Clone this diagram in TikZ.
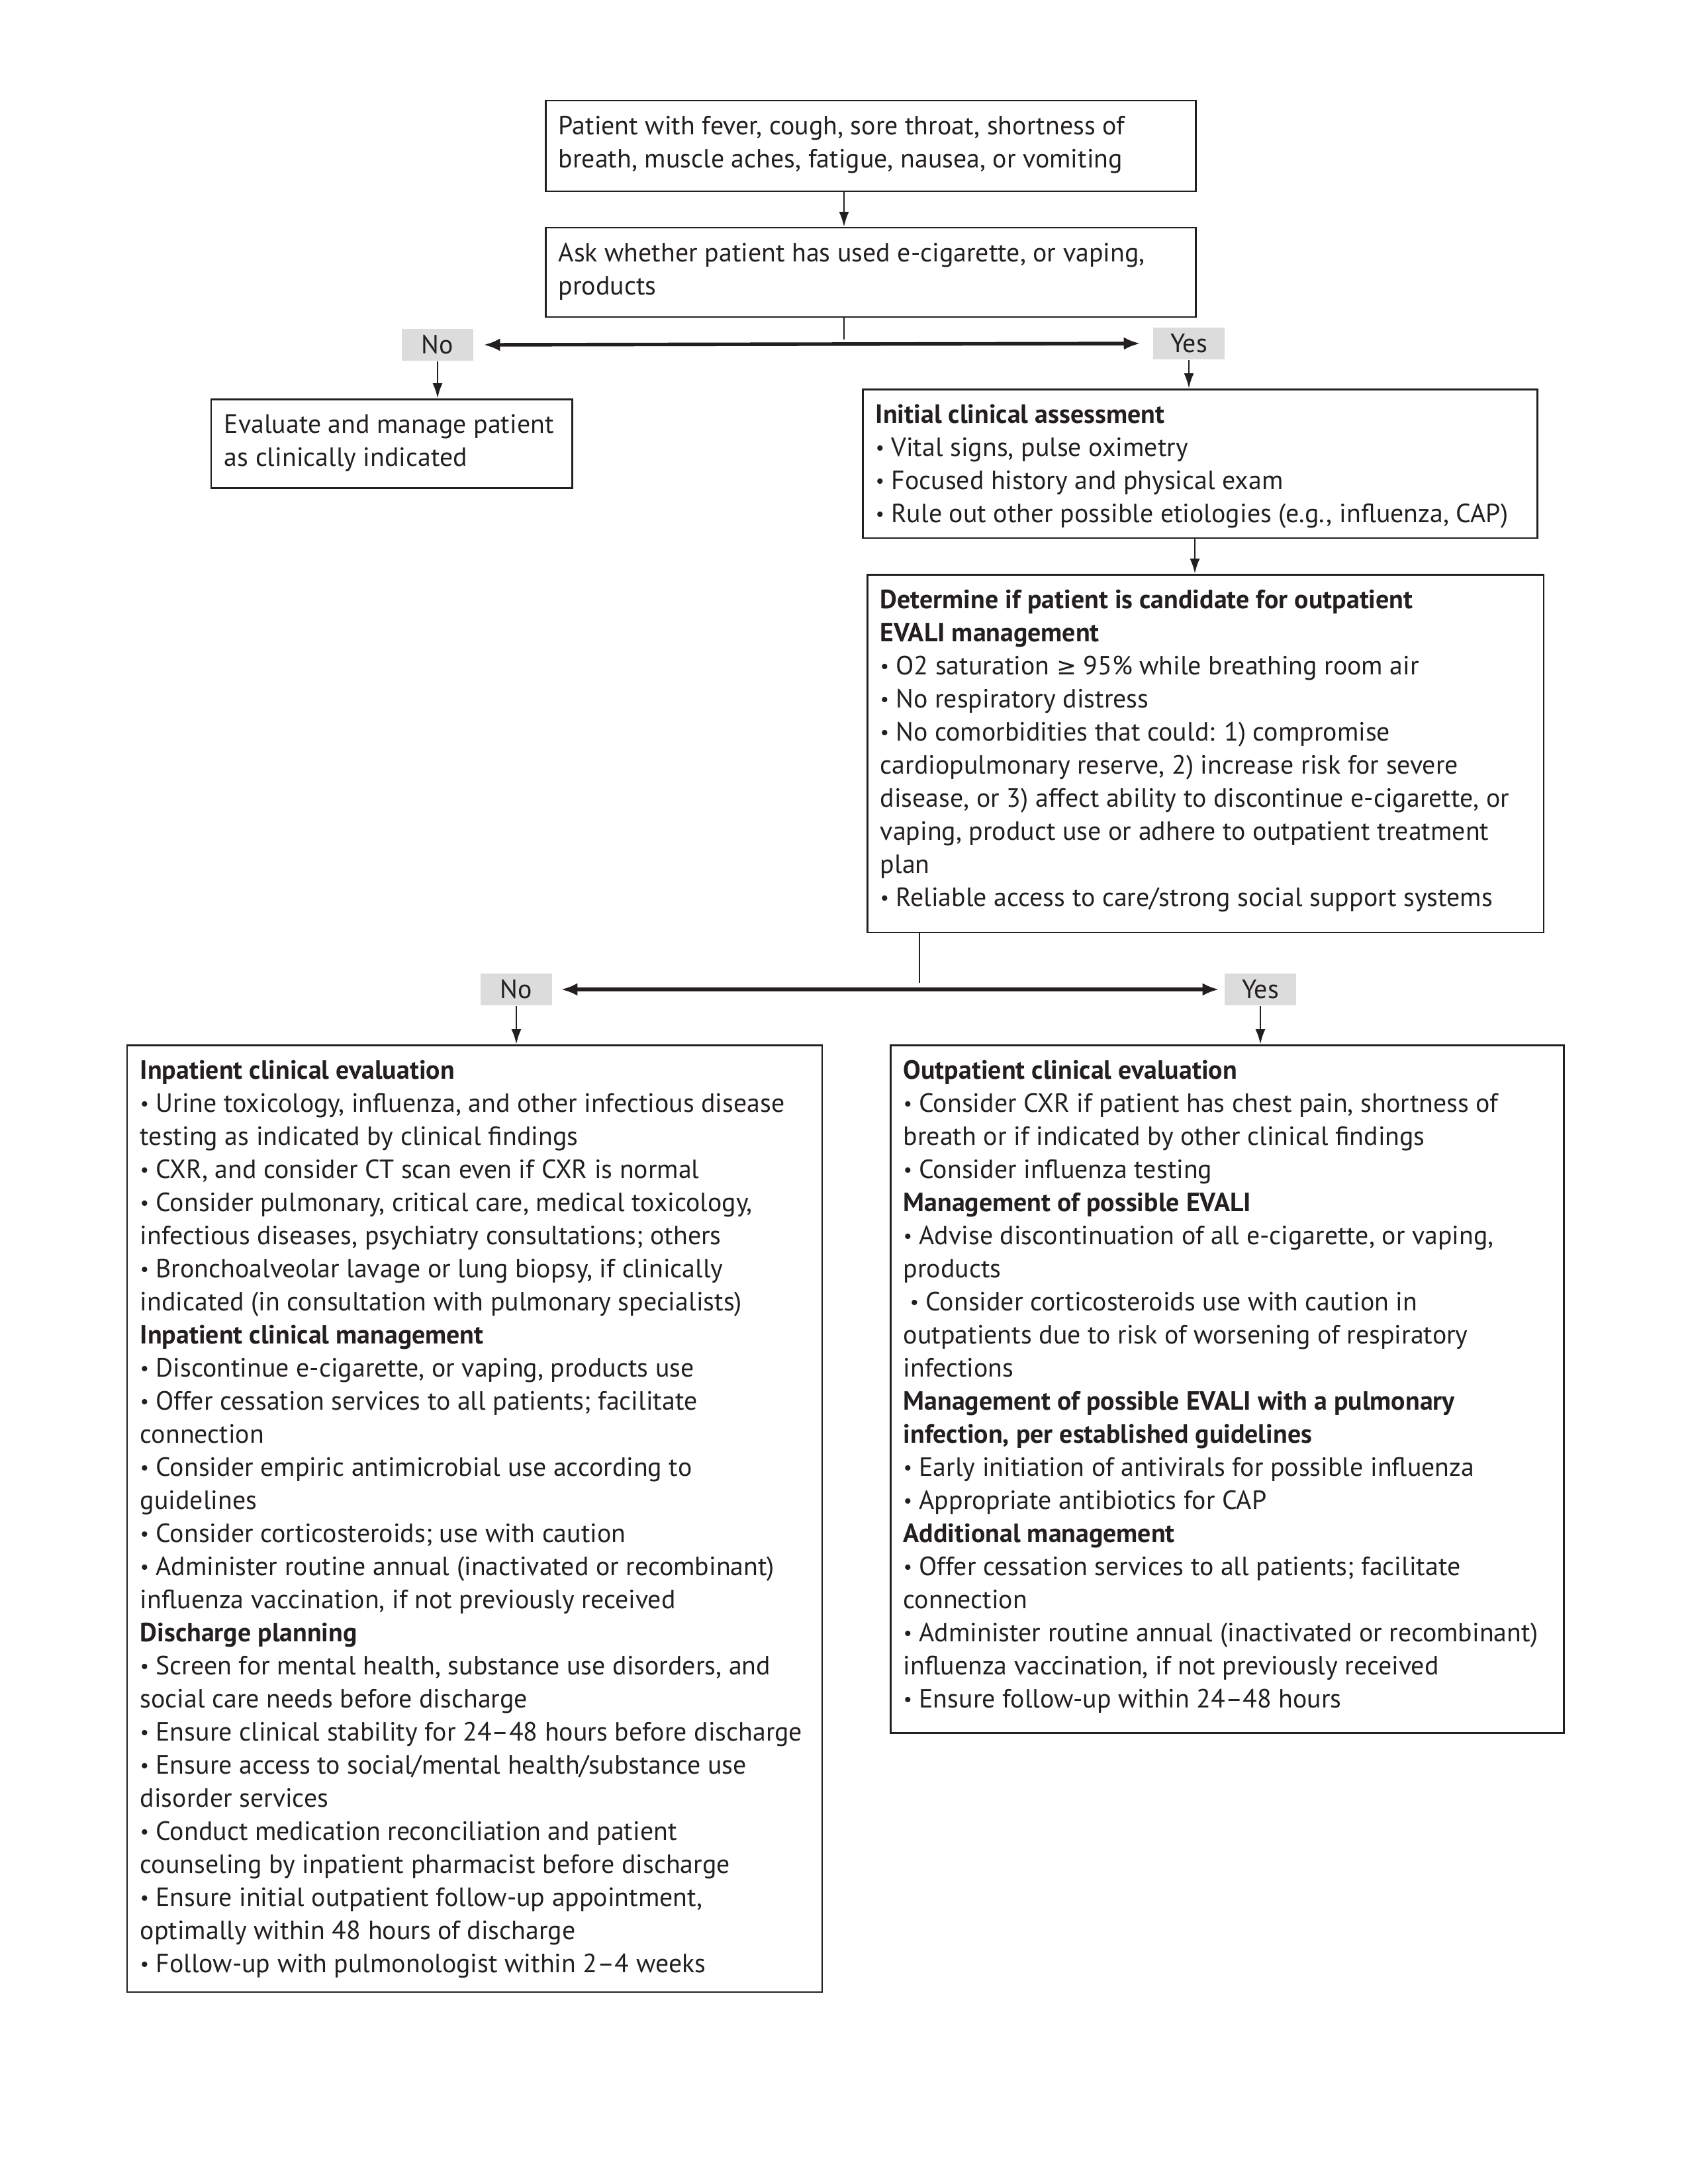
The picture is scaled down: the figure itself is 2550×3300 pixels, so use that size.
\documentclass[tikz,border=0pt]{standalone}
\usepackage{fontspec}
\setmainfont{PT Sans}
\newfontfamily\symfont{DejaVu Sans}
\usetikzlibrary{arrows.meta,calc}
\definecolor{labgray}{HTML}{DCDCDC}
\definecolor{ink}{HTML}{231F20}
\newcommand{\bul}{{\fontsize{7}{7}\selectfont\raisebox{0.7pt}{•}}}
\newcommand{\geqsym}{{\symfont\fontsize{8.6}{8.6}\selectfont ≥}}
\begin{document}
\begin{tikzpicture}[x=0.2409pt,y=-0.2409pt,
  box/.style={draw=ink, line width=0.6pt, anchor=north west, inner sep=0pt},
  txt/.style={anchor=north west, align=left, inner sep=0pt, text=ink,
    font=\fontsize{9.6}{12.05}\selectfont},
  lab/.style={fill=labgray, minimum width=25.8pt, minimum height=11.6pt, inner sep=0pt,
    text=ink, font=\fontsize{9.6}{12.05}\selectfont},
  arr/.style={draw=ink, line width=0.7pt, -{Latex[length=5.5pt,width=3.6pt]}},
  ln/.style={draw=ink, line width=0.7pt},
  harr/.style={draw=ink, line width=1.3pt, {Latex[length=6pt,width=4.6pt]}-{Latex[length=6pt,width=4.6pt]}}]
\useasboundingbox (0,0) rectangle (2550,3300);

% boxes
\node[box, minimum width=236.6pt, minimum height=33.0pt] (b1) at (823,151) {};
\node[box, minimum width=236.6pt, minimum height=32.5pt] (b2) at (823,343) {};
\node[box, minimum width=131.3pt, minimum height=32.3pt] (ev) at (318,602) {};
\node[box, minimum width=245.5pt, minimum height=54.2pt] (ini) at (1302,587) {};
\node[box, minimum width=246.2pt, minimum height=130.3pt] (det) at (1309,867) {};
\node[box, minimum width=252.9pt, minimum height=344.7pt] (inp) at (191,1578) {};
\node[box, minimum width=245.0pt, minimum height=250.3pt] (outp) at (1344,1578) {};

% labels
\node[lab] (no1) at (661,521) {No};
\node[lab] (yes1) at (1796,519) {Yes};
\node[lab] (no2) at (780,1495) {No};
\node[lab] (yes2) at (1904,1495) {Yes};

% texts
\node[txt] (b1t) at ($(b1.north west)+(20,23)$) {Patient with fever, cough, sore throat, shortness of\\breath, muscle aches, fatigue, nausea, or vomiting};
\node[txt] (b2t) at ($(b2.north west)+(20,23)$) {Ask whether patient has used e-cigarette, or vaping,\\products};
\node[txt] (evt) at ($(ev.north west)+(20,23)$) {Evaluate and manage patient\\as clinically indicated};
\node[txt] (init) at ($(ini.north west)+(20,23)$) {\textbf{Initial clinical assessment}\\
\bul{} Vital signs, pulse oximetry\\
\bul{} Focused history and physical exam\\
\bul{} Rule out other possible etiologies (e.g., influenza, CAP)};
\node[txt] (dett) at ($(det.north west)+(20,23)$) {\textbf{Determine if patient is candidate for outpatient}\\
\textbf{EVALI management}\\
\bul{} O2 saturation \geqsym{} 95\% while breathing room air\\
\bul{} No respiratory distress\\
\bul{} No comorbidities that could: 1) compromise\\
cardiopulmonary reserve, 2) increase risk for severe\\
disease, or 3) affect ability to discontinue e-cigarette, or\\
vaping, product use or adhere to outpatient treatment\\
plan\\
\bul{} Reliable access to care/strong social support systems};
\node[txt] (inpt) at ($(inp.north west)+(20,23)$) {\textbf{Inpatient clinical evaluation}\\
\bul{} Urine toxicology, influenza, and other infectious disease\\
testing as indicated by clinical findings\\
\bul{} CXR, and consider CT scan even if CXR is normal\\
\bul{} Consider pulmonary, critical care, medical toxicology,\\
infectious diseases, psychiatry consultations; others\\
\bul{} Bronchoalveolar lavage or lung biopsy, if clinically\\
indicated (in consultation with pulmonary specialists)\\
\textbf{Inpatient clinical management}\\
\bul{} Discontinue e-cigarette, or vaping, products use\\
\bul{} Offer cessation services to all patients; facilitate\\
connection\\
\bul{} Consider empiric antimicrobial use according to\\
guidelines\\
\bul{} Consider corticosteroids; use with caution\\
\bul{} Administer routine annual (inactivated or recombinant)\\
influenza vaccination, if not previously received\\
\textbf{Discharge planning}\\
\bul{} Screen for mental health, substance use disorders, and\\
social care needs before discharge\\
\bul{} Ensure clinical stability for 24–48 hours before discharge\\
\bul{} Ensure access to social/mental health/substance use\\
disorder services\\
\bul{} Conduct medication reconciliation and patient\\
counseling by inpatient pharmacist before discharge\\
\bul{} Ensure initial outpatient follow-up appointment,\\
optimally within 48 hours of discharge\\
\bul{} Follow-up with pulmonologist within 2–4 weeks};
\node[txt] (outpt) at ($(outp.north west)+(20,23)$) {\textbf{Outpatient clinical evaluation}\\
\bul{} Consider CXR if patient has chest pain, shortness of\\
breath or if indicated by other clinical findings\\
\bul{} Consider influenza testing\\
\textbf{Management of possible EVALI}\\
\bul{} Advise discontinuation of all e-cigarette, or vaping,\\
products\\
\hspace*{0.25em}\bul{} Consider corticosteroids use with caution in\\
outpatients due to risk of worsening of respiratory\\
infections\\
\textbf{Management of possible EVALI with a pulmonary}\\
\textbf{infection, per established guidelines}\\
\bul{} Early initiation of antivirals for possible influenza\\
\bul{} Appropriate antibiotics for CAP\\
\textbf{Additional management}\\
\bul{} Offer cessation services to all patients; facilitate\\
connection\\
\bul{} Administer routine annual (inactivated or recombinant)\\
influenza vaccination, if not previously received\\
\bul{} Ensure follow-up within 24–48 hours};

% connectors
\coordinate (s1) at (1275,513);
\coordinate (s2) at (1389,1485);
\draw[arr] (b1.south -| s1) -- (b2.north -| s1);
\draw[ln] (b2.south -| s1) -- (s1);
\draw[harr] ($(no1.east)+(15,0)$) -- ($(yes1.west)+(-19,0)$);
\draw[arr] (no1.south) -- (no1.south |- ev.north);
\draw[arr] (yes1.south) -- (yes1.south |- ini.north);
\coordinate (c3) at (1805,812);
\draw[arr] (ini.south -| c3) -- (det.north -| c3);
\draw[ln] (det.south -| s2) -- (s2);
\draw[harr] ($(no2.east)+(13,0)$) -- ($(yes2.west)+(-8,0)$);
\draw[arr] (no2.south) -- (no2.south |- inp.north);
\draw[arr] (yes2.south) -- (yes2.south |- outp.north);
\end{tikzpicture}
\end{document}
